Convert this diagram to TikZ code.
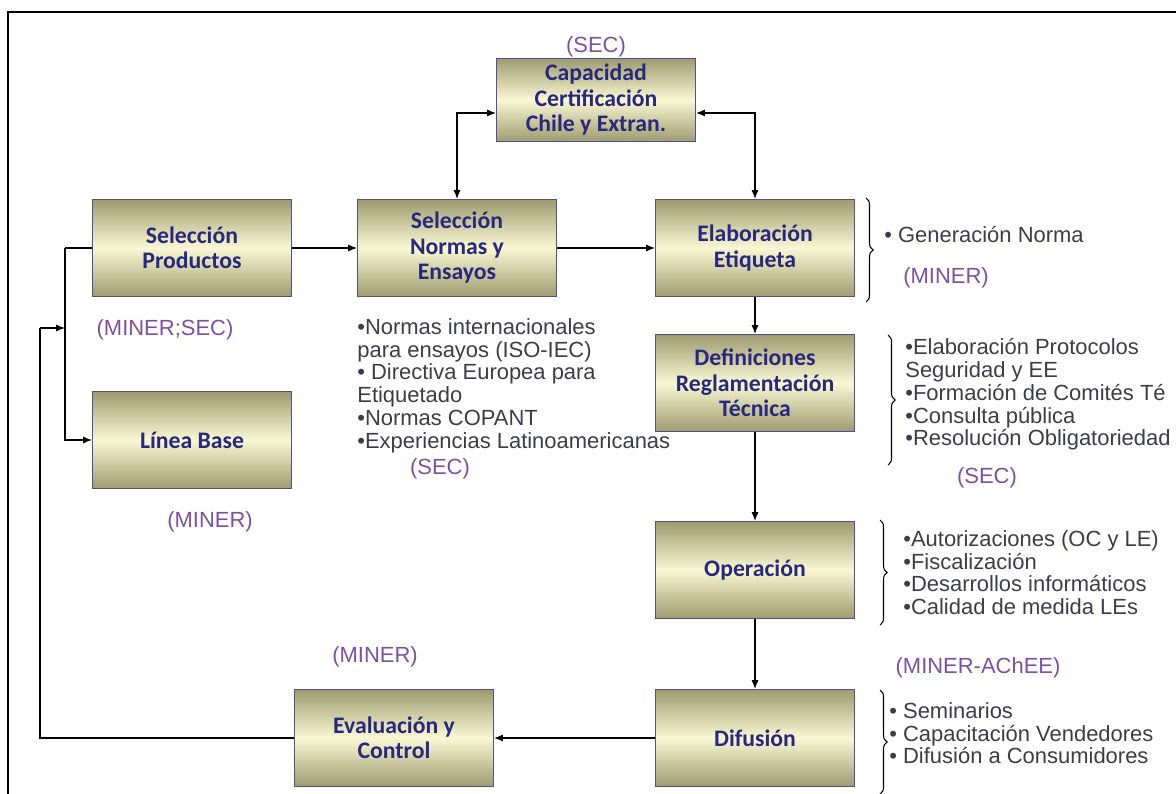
\documentclass[tikz,border=0pt]{standalone}
\usepackage{fontspec}
\setmainfont{Liberation Sans}
\newfontfamily\boxfont{Carlito}
\usetikzlibrary{arrows.meta,decorations.pathreplacing}

\definecolor{boxdark}{RGB}{158,155,112}
\definecolor{boxlight}{RGB}{250,248,212}
\definecolor{boxline}{RGB}{80,80,150}
\definecolor{boxtext}{RGB}{40,40,125}
\definecolor{agencycol}{RGB}{125,80,160}
\definecolor{notecol}{RGB}{60,60,75}

\tikzset{
  stage/.style={draw=boxline, line width=0.7pt, top color=boxdark, bottom color=boxdark,
    middle color=boxlight, minimum width=3.98cm, minimum height=1.94cm, align=center,
    text=boxtext, font=\boxfont\bfseries\fontsize{13.5}{14.5}\selectfont},
  agency/.style={text=agencycol, font=\fontsize{12.5}{13}\selectfont, inner sep=0pt},
  notes/.style={text=notecol, font=\fontsize{12.5}{13}\selectfont, align=left,
    anchor=north west, inner sep=0pt},
  link/.style={-{Latex[length=5pt,width=4pt]}, line width=0.6pt},
  curly/.style={decorate, decoration={brace, amplitude=4pt}, line width=0.6pt},
}

\begin{document}
\begin{tikzpicture}[x=0.02cm, y=-0.02cm]
\useasboundingbox (0,0) rectangle (1176,794);

% frame
\draw[line width=1.1pt] (8,794) -- (8,12) -- (1176,12);

% stages
\node[stage, minimum height=1.32cm] (cap) at (596,100) {Capacidad\\Certificación\\Chile y Extran.};
\node[stage] (prod) at (192,248) {Selección\\Productos};
\node[stage] (norm) at (457,248) {Selección\\Normas y\\Ensayos};
\node[stage] (elab) at (755,248) {Elaboración\\Etiqueta};
\node[stage] (base) at (192,440) {Línea Base};
\node[stage] (defi) at (755,383) {Definiciones\\Reglamentación\\Técnica};
\node[stage] (oper) at (755,570) {Operación};
\node[stage] (difu) at (755,738) {Difusión};
\node[stage] (eval) at (394,738) {Evaluación y\\Control};

% who is in charge
\node[agency] (capag) at (596,47) {(SEC)};
\node[agency] (prodag) at (165,330) {(MINER;SEC)};
\node[agency] (basead) at (210,522) {(MINER)};
\node[agency] (normag) at (440,469) {(SEC)};
\node[agency] (elabag) at (946,278) {(MINER)};
\node[agency] (defiag) at (987,478) {(SEC)};
\node[agency] (difuag) at (978,668) {(MINER-AChEE)};
\node[agency] (evalag) at (375,657) {(MINER)};

% notes
\node[notes] (normnt) at (357,318) {•Normas internacionales\\para ensayos (ISO-IEC)\\• Directiva Europea para\\Etiquetado\\•Normas COPANT\\•Experiencias Latinoamericanas};
\node[notes] (elabnt) at (884,226) {• Generación Norma};
\node[notes] (defint) at (905,338) {•Elaboración Protocolos\\Seguridad y EE\\•Formación de Comités Té\\•Consulta pública\\•Resolución Obligatoriedad};
\node[notes] (opernt) at (903,530) {•Autorizaciones (OC y LE)\\•Fiscalización\\•Desarrollos informáticos\\•Calidad de medida LEs};
\node[notes] (difunt) at (889,702) {• Seminarios\\• Capacitación Vendedores\\• Difusión a Consumidores};

% braces
\draw[curly] (866,198) -- (866,302);
\draw[curly] (888,335) -- (888,465);
\draw[curly] (880,520) -- (880,625);
\draw[curly] (880,690) -- (880,794);

% flow
\coordinate (split) at (65,248);
\coordinate (back) at (40,328);
\coordinate (join) at (65,328);

\draw[link] (prod) -- (norm);
\draw[link] (norm) -- (elab);
\draw[{Latex[length=5pt,width=4pt]}-{Latex[length=5pt,width=4pt]}, line width=0.6pt]
  (norm.north) |- ([yshift=-0.26cm]cap.west);
\draw[{Latex[length=5pt,width=4pt]}-{Latex[length=5pt,width=4pt]}, line width=0.6pt]
  (elab.north) |- ([yshift=-0.26cm]cap.east);
\draw[link] (elab) -- (defi);
\draw[link] (defi) -- (oper);
\draw[link] (oper) -- (difu);
\draw[link] (difu) -- (eval);
\draw[line width=0.6pt] (prod.west) -- (split);
\draw[link] (split) |- (base.west);
\draw[line width=1.1pt] (eval.west) -| (back);
\draw[link] (back) -- (join);

\end{tikzpicture}
\end{document}
